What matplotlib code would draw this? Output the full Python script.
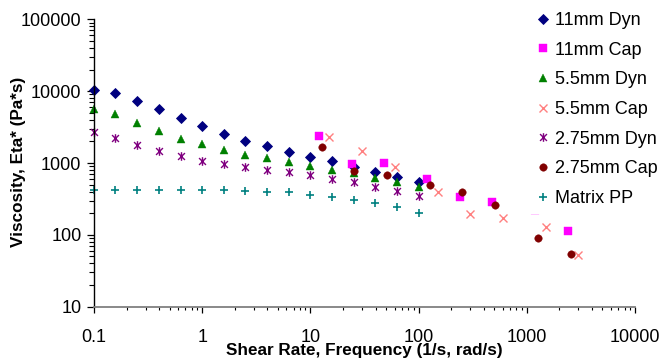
import matplotlib
matplotlib.use("Agg")
import matplotlib.pyplot as plt
from matplotlib.path import Path
from matplotlib.ticker import FixedLocator, FixedFormatter, LogLocator, NullFormatter

# ---- data ----
dyn_freq = [0.1, 0.158, 0.251, 0.398, 0.631, 1.0, 1.585, 2.512, 3.981, 6.31,
            10.0, 15.85, 25.12, 39.81, 63.1, 100.0]
dyn11 = [10350, 9500, 7350, 5690, 4220, 3230, 2500, 2000, 1720, 1430,
         1210, 1060, 885, 753, 643, 542]
dyn55 = [5690, 4750, 3630, 2780, 2150, 1820, 1530, 1290, 1160, 1040,
         906, 796, 716, 622, 547, 466]
dyn275 = [2720, 2200, 1760, 1470, 1260, 1070, 966, 869, 796, 740,
          672, 591, 547, 457, 406, 346]
matrix_pp = [415, 415, 415, 415, 415, 415, 415, 402, 389, 389,
             354, 338, 304, 274, 241, 202]

cap11_rate = [12, 24, 48, 120, 240, 480, 1200, 2400]
cap11 = [2340, 957, 1007, 597, 335, 285, 221, 114]
cap55_rate = [15, 30, 60, 150, 300, 600, 1500, 3000]
cap55 = [2270, 1480, 885, 397, 194, 169, 127, 53]
cap275_rate = [12.8, 25.5, 51, 127, 253, 512, 1270, 2550]
cap275 = [1670, 771, 672, 492, 393, 259, 91, 54]

x_ticks = [0.1, 1, 10, 100, 1000, 10000]
x_ticklabels = ["0.1", "1", "10", "100", "1000", "10000"]
y_ticks = [10, 100, 1000, 10000, 100000]
y_ticklabels = ["10", "100", "1000", "10000", "100000"]

# ---- figure ----
W, H = 663, 364
fig = plt.figure(figsize=(W / 100, H / 100), dpi=100)
ax = fig.add_axes([94 / W, (H - 306.7) / H, 541 / W, 287.4 / H])

font = "Liberation Sans"

# Excel-style asterisk marker (x with vertical bar)
ast = Path([(-1, -1), (1, 1), (-1, 1), (1, -1), (0, -1.25), (0, 1.25)],
           [Path.MOVETO, Path.LINETO, Path.MOVETO, Path.LINETO, Path.MOVETO, Path.LINETO])

common = dict(ls="none", clip_on=False)
ax.plot(dyn_freq, dyn11, marker="D", ms=4.8, mfc="#000080", mec="#000080",
        mew=0.6, label="11mm Dyn", **common)
ax.plot(cap11_rate, cap11, marker="s", ms=5.2, mfc="#FF00FF", mec="#FF00FF",
        mew=0.3, label="11mm Cap", **common)
ax.plot(dyn_freq, dyn55, marker="^", ms=6.0, mfc="#008000", mec="#008000",
        mew=0.3, label="5.5mm Dyn", **common)
ax.plot(cap55_rate, cap55, marker="x", ms=5.6, mec="#FF8080",
        mew=1.0, label="5.5mm Cap", **common)
ax.plot(dyn_freq, dyn275, marker=ast, ms=6.2, mec="#800080",
        mew=1.0, label="2.75mm Dyn", **common)
ax.plot(cap275_rate, cap275, marker="o", ms=5.4, mfc="#800000", mec="#800000",
        mew=0.3, label="2.75mm Cap", **common)
ax.plot(dyn_freq, matrix_pp, marker="+", ms=6.2, mec="#008080",
        mew=1.2, label="Matrix PP", **common)

ax.set_xscale("log")
ax.set_yscale("log")
ax.set_xlim(0.1, 10000)
ax.set_ylim(10, 100000)

ax.xaxis.set_major_locator(FixedLocator(x_ticks))
ax.xaxis.set_major_formatter(FixedFormatter(x_ticklabels))
ax.yaxis.set_major_locator(FixedLocator(y_ticks))
ax.yaxis.set_major_formatter(FixedFormatter(y_ticklabels))
ax.xaxis.set_minor_locator(LogLocator(base=10, subs=range(2, 10), numticks=20))
ax.yaxis.set_minor_locator(LogLocator(base=10, subs=range(2, 10), numticks=20))
ax.xaxis.set_minor_formatter(NullFormatter())
ax.yaxis.set_minor_formatter(NullFormatter())

for s in ("top", "right"):
    ax.spines[s].set_visible(False)
ax.spines["left"].set_color("black")
ax.spines["left"].set_linewidth(1.0)
ax.spines["bottom"].set_color("#808080")
ax.spines["bottom"].set_linewidth(1.3)

ax.tick_params(axis="x", which="major", direction="out", length=4.3, width=0.9,
               color="black", pad=12)
ax.tick_params(axis="x", which="minor", direction="out", length=2.5, width=0.8, color="black")
ax.tick_params(axis="y", which="major", direction="out", length=5, width=0.9,
               color="black", pad=4)
ax.tick_params(axis="y", which="minor", direction="out", length=3.6, width=0.8, color="black")
for lab in ax.get_xticklabels() + ax.get_yticklabels():
    lab.set_fontfamily(font)
    lab.set_fontsize(13)

ax.set_xlabel("Shear Rate, Frequency (1/s, rad/s)", fontfamily=font, fontsize=12.3,
              fontweight="bold")
ax.set_ylabel("Viscosity, Eta* (Pa*s)", fontfamily=font, fontsize=12.3, fontweight="bold")
ax.xaxis.set_label_coords(0.5, -0.128)
ax.yaxis.label.set_va("center")
ax.yaxis.set_label_coords((18.5 - 94) / 541, (306.7 - 162) / 287.4)

leg = ax.legend(loc="upper left", bbox_to_anchor=(528.3 / W, 1 - 4.8 / H),
                bbox_transform=fig.transFigure, frameon=True, fancybox=False,
                facecolor="white", edgecolor="none", framealpha=1.0,
                borderaxespad=0, borderpad=0.4, handlelength=0.8, handletextpad=0.28,
                labelspacing=0.7, prop={"family": font, "size": 13})

fig.savefig("out.png", dpi=100)
